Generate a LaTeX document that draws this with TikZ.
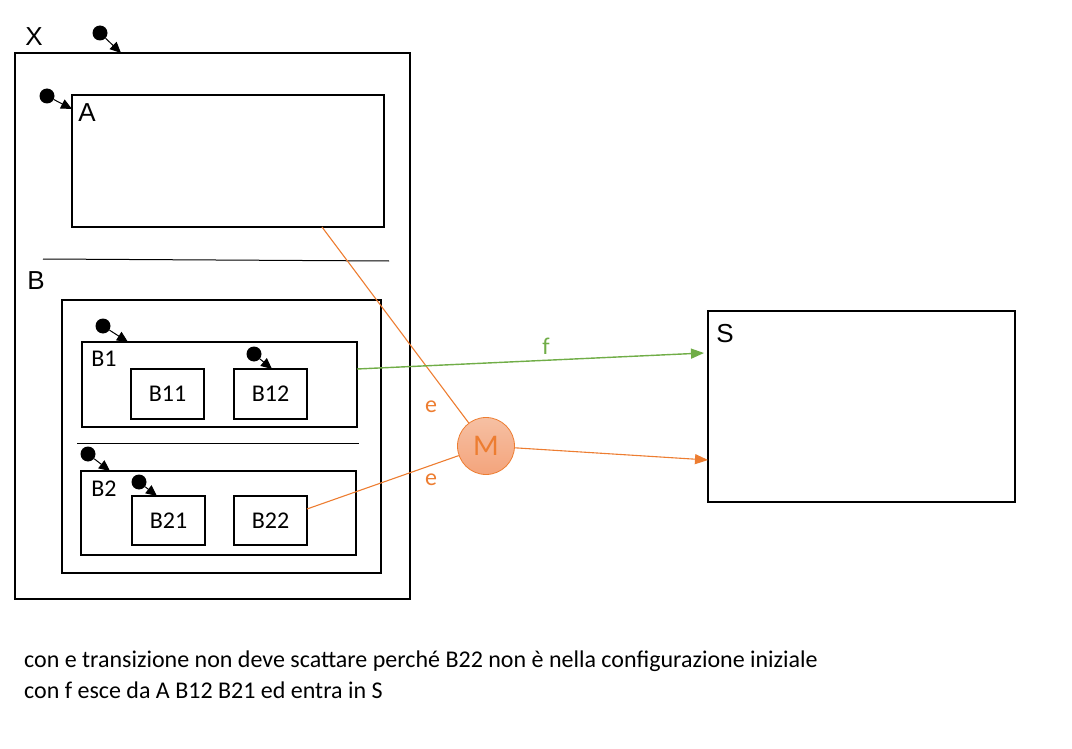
\documentclass[tikz,border=0pt]{standalone}
\usepackage{fontspec}
\setmainfont{Carlito}
\newfontfamily\arialf{Liberation Sans}
\usetikzlibrary{arrows.meta,fit}
\definecolor{orng}{HTML}{ED7D31}
\definecolor{grn}{HTML}{70AD47}
\definecolor{mtop}{HTML}{F6C0A3}
\definecolor{mbot}{HTML}{F4A47C}
\tikzset{
  box/.style={draw=black, line width=2pt, inner sep=0pt, fill=none},
  sep/.style={draw=black, line width=1pt},
  dot/.style={circle, fill=black, inner sep=0pt, minimum size=15pt},
  initarr/.style={draw=black, line width=1pt, -{Triangle[length=11pt,width=10pt]}},
  biglbl/.style={font=\arialf\fontsize{26}{30}\selectfont, inner sep=0pt},
  lbl/.style={font=\fontsize{24}{28}\selectfont, inner sep=0pt},
  elbl/.style={font=\fontsize{24}{28}\selectfont, inner sep=0pt, text=orng},
  otr/.style={draw=orng, line width=1.1pt},
  gtr/.style={draw=grn, line width=1.4pt},
}
\begin{document}
\begin{tikzpicture}[x=1pt,y=-1pt]
\useasboundingbox (0,0) rectangle (1072,749);
% boxes
\node[box, fit={(15,53) (410,599)}] (X) {};
\node[box, fit={(72,95) (384,227)}] (A) {};
\node[box, fit={(62,300) (381,573)}] (B) {};
\node[box, fit={(82,342) (357,427)}] (B1) {};
\node[box, fit={(131,369) (204,419)}, label={[lbl]center:B11}] (B11) {};
\node[box, fit={(234,369) (307,419)}, label={[lbl]center:B12}] (B12) {};
\node[box, fit={(81,471) (356,555)}] (B2) {};
\node[box, fit={(132,496) (205,545)}, label={[lbl]center:B21}] (B21) {};
\node[box, fit={(234,496) (307,545)}, label={[lbl]center:B22}] (B22) {};
\node[box, fit={(708,311) (1015,502)}] (S) {};
% separators
\coordinate (s1a) at (43,259);
\coordinate (s1b) at (389,261);
\draw[sep] (s1a) -- (s1b);
\coordinate (s2a) at (77,443);
\coordinate (s2b) at (359,443);
\draw[sep] (s2a) -- (s2b);
% labels
\node[biglbl] (lX) at (34,37) {X};
\node[biglbl] (lA) at (87,113) {A};
\node[biglbl] (lB) at (36,281) {B};
\node[biglbl] (lS) at (725,334) {S};
\node[lbl] (lB1) at (104,359) {B1};
\node[lbl] (lB2) at (104,489) {B2};
% initial states
\node[dot] (dX) at (100,33) {};
\coordinate (tX) at (121,53);
\draw[initarr] (dX) -- (tX);
\node[dot] (dA) at (47,96) {};
\coordinate (tA) at (72,109);
\draw[initarr] (dA) -- (tA);
\node[dot] (dB1) at (103,326) {};
\coordinate (tB1) at (128,342);
\draw[initarr] (dB1) -- (tB1);
\node[dot] (dB12) at (254,354) {};
\coordinate (tB12) at (272,369);
\draw[initarr] (dB12) -- (tB12);
\node[dot] (dB2) at (88,454) {};
\coordinate (tB2) at (110,471);
\draw[initarr] (dB2) -- (tB2);
\node[dot] (dB21) at (139,482) {};
\coordinate (tB21) at (157,496);
\draw[initarr] (dB21) -- (tB21);
% M junction
\node[circle, draw=orng, line width=0.8pt, top color=mtop, bottom color=mbot, minimum size=57pt, inner sep=0pt, text=orng, font=\fontsize{30}{34}\selectfont] (M) at (486,446) {M};
% transitions
\coordinate (aA) at (322,227);
\draw[otr] (aA) -- (M);
\coordinate (aB22) at (307,509);
\draw[otr] (aB22) -- (M);
\coordinate (tS1) at (708,460);
\draw[otr, -{Triangle[length=13pt,width=10pt]}] (M) -- (tS1);
\coordinate (aB1) at (357,369);
\coordinate (tS2) at (704,353);
\draw[gtr, -{Triangle[length=13pt,width=10pt]}] (aB1) -- (tS2);
\node[elbl] (e1) at (431,407) {e};
\node[elbl] (e2) at (431,480) {e};
\node[lbl, text=grn] (f) at (546,346) {f};
% notes
\node[lbl, anchor=west] (n1) at (24,661) {con e transizione non deve scattare perché B22 non è nella configurazione iniziale};
\node[lbl, anchor=west] (n2) at (24,690) {con f esce da A B12 B21 ed entra in S};
\end{tikzpicture}
\end{document}
